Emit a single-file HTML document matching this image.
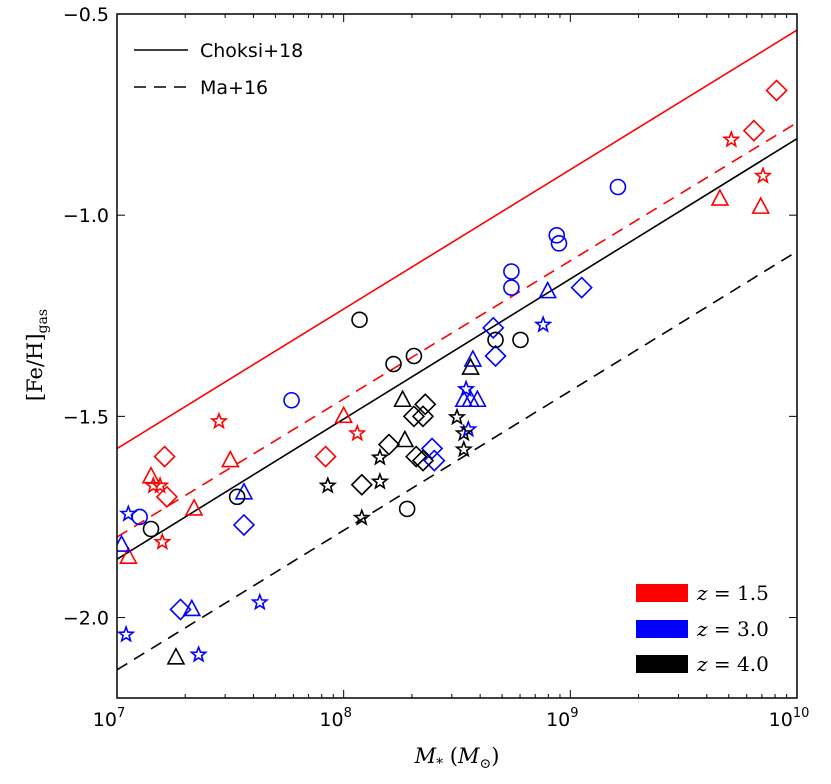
<!DOCTYPE html>
<html><head><meta charset="utf-8"><style>
body{margin:0;background:#fff}
svg text{font-family:"DejaVu Sans","Liberation Sans",sans-serif}
svg text.serif{font-family:"DejaVu Serif","Liberation Serif",serif}
</style></head><body>
<svg id="c" width="831" height="779" xmlns="http://www.w3.org/2000/svg"></svg>
<script>
// data: [log10 M*, [Fe/H]]
const redStars=[[9.71,-0.81],[9.85,-0.90],[7.45,-1.51],[8.06,-1.54],[7.16,-1.67],[7.19,-1.67],[7.20,-1.81]];
const redTris=[[7.15,-1.65],[7.50,-1.61],[7.34,-1.73],[7.05,-1.85],[8.00,-1.50],[9.66,-0.96],[9.84,-0.98]];
const redDiamonds=[[7.21,-1.60],[7.22,-1.70],[7.92,-1.60],[9.81,-0.79],[9.91,-0.69]];
const blueCircles=[[7.10,-1.75],[7.77,-1.46],[8.74,-1.14],[8.74,-1.18],[8.94,-1.05],[8.95,-1.07],[9.21,-0.93]];
const blueTris=[[7.02,-1.82],[7.56,-1.69],[7.33,-1.98],[8.57,-1.36],[8.53,-1.46],[8.56,-1.46],[8.59,-1.46],[8.90,-1.19]];
const blueStars=[[7.05,-1.74],[7.04,-2.04],[7.36,-2.09],[7.63,-1.96],[8.88,-1.27],[8.54,-1.43],[8.55,-1.53]];
const blueDiamonds=[[8.66,-1.28],[8.67,-1.35],[8.39,-1.58],[8.40,-1.61],[7.56,-1.77],[7.28,-1.98],[9.05,-1.18]];
const blackCircles=[[7.15,-1.78],[7.53,-1.70],[8.07,-1.26],[8.22,-1.37],[8.31,-1.35],[8.67,-1.31],[8.78,-1.31],[8.28,-1.73]];
const blackTris=[[7.26,-2.10],[8.26,-1.46],[8.27,-1.56],[8.56,-1.38]];
const blackDiamonds=[[8.36,-1.47],[8.31,-1.50],[8.35,-1.50],[8.20,-1.57],[8.32,-1.60],[8.35,-1.61],[8.08,-1.67]];
const blackStars=[[7.93,-1.67],[8.16,-1.60],[8.16,-1.66],[8.08,-1.75],[8.50,-1.50],[8.53,-1.54],[8.53,-1.58]];
// relations: [Fe/H] at logM=7 and 10
const choksiRed=[-1.58,-0.54], ma16Red=[-1.80,-0.77], choksiBlack=[-1.855,-0.81], ma16Black=[-2.13,-1.09];
const yTicks=[-0.5,-1.0,-1.5,-2.0];
const yTickLabels=["\u22120.5","\u22121.0","\u22121.5","\u22122.0"];
const xDecades=[7,8,9,10];

const L=117,R=797,T=14,B=698,X0=7,X1=10,Y0=-2.2,Y1=-0.5;
const sx=v=>L+(v-X0)/(X1-X0)*(R-L), sy=v=>B-(v-Y0)/(Y1-Y0)*(B-T);
const svg=document.getElementById('c'),NS='http://www.w3.org/2000/svg';
function mk(tag,a,p){const e=document.createElementNS(NS,tag);for(const k in a)e.setAttribute(k,a[k]);(p||svg).appendChild(e);return e;}
const clip=mk('clipPath',{id:'pc'});mk('rect',{x:L,y:T,width:R-L,height:B-T},clip);
const g=mk('g',{'clip-path':'url(#pc)'});


function line(arr,col,dash,name){const e=mk('line',{x1:sx(7),y1:sy(arr[0]),x2:sx(10),y2:sy(arr[1]),stroke:col,'stroke-width':1.6,'stroke-dasharray':dash||''},g);

}
line(choksiRed,'#f00','', 'choksi-line-z1.5');line(ma16Red,'#f00','12,8','ma16-line-z1.5');
line(choksiBlack,'#000','','choksi-line-z4');line(ma16Black,'#000','12,8','ma16-line-z4');
function starPts(cx,cy,r){let p=[];for(let i=0;i<10;i++){const a=-Math.PI/2+i*Math.PI/5,rr=i%2?r*0.42:r;p.push((cx+rr*Math.cos(a)).toFixed(1)+','+(cy+rr*Math.sin(a)).toFixed(1));}return p.join(' ');}
function marker(kind,d,col,name){const x=sx(d[0]),y=sy(d[1]);let e;const s={fill:'none',stroke:col,'stroke-width':1.6};
if(kind==='o')e=mk('circle',Object.assign({cx:x,cy:y,r:7.5},s),g);
else if(kind==='^')e=mk('polygon',Object.assign({points:`${x},${y-9} ${x+8},${y+6} ${x-8},${y+6}`},s),g);
else if(kind==='d')e=mk('polygon',Object.assign({points:`${x},${y-10} ${x+10},${y} ${x},${y+10} ${x-10},${y}`},s),g);
else e=mk('polygon',Object.assign({points:starPts(x,y+1,7.5)},s),g);

}
const sets=[[redStars,'*','#f00','red-star'],[redTris,'^','#f00','red-triangle'],[redDiamonds,'d','#f00','red-diamond'],
[blueCircles,'o','#00f','blue-circle'],[blueTris,'^','#00f','blue-triangle'],[blueStars,'*','#00f','blue-star'],[blueDiamonds,'d','#00f','blue-diamond'],
[blackCircles,'o','#000','black-circle'],[blackTris,'^','#000','black-triangle'],[blackDiamonds,'d','#000','black-diamond'],[blackStars,'*','#000','black-star']];
sets.forEach(s=>s[0].forEach(d=>marker(s[1],d,s[2],s[3])));
// frame
const fr=mk('rect',{x:L,y:T,width:R-L,height:B-T,fill:'none',stroke:'#000','stroke-width':1.5});


// ticks
yTicks.forEach((v,i)=>{const y=sy(v);mk('line',{x1:L,y1:y,x2:L+8,y2:y,stroke:'#000','stroke-width':1});mk('line',{x1:R,y1:y,x2:R-8,y2:y,stroke:'#000','stroke-width':1});
const t=mk('text',{x:L-8,y:y+7,'text-anchor':'end','font-size':19});t.textContent=yTickLabels[i];

});
xDecades.forEach(d=>{const x=sx(d);mk('line',{x1:x,y1:B,x2:x,y2:B-8,stroke:'#000'});mk('line',{x1:x,y1:T,x2:x,y2:T+8,stroke:'#000'});
const t=mk('text',{x:x-8,y:B+28,'text-anchor':'middle','font-size':19});t.innerHTML='10<tspan dy="-9" font-size="13">'+d+'</tspan>';


if(d<10)for(let m=2;m<10;m++){const xm=sx(d+Math.log10(m));mk('line',{x1:xm,y1:B,x2:xm,y2:B-4,stroke:'#000'});mk('line',{x1:xm,y1:T,x2:xm,y2:T+4,stroke:'#000'});}});
// axis labels
let t=mk('text',{x:457,y:763,'text-anchor':'middle','font-size':21,'class':'serif'});
t.innerHTML='<tspan font-style="italic">M</tspan><tspan font-size="14" dy="5">*</tspan><tspan dy="-5"> (</tspan><tspan font-style="italic">M</tspan><tspan font-size="14" dy="5">\u2299</tspan><tspan dy="-5">)</tspan>';


t=mk('text',{x:0,y:0,'text-anchor':'middle','font-size':21,'class':'serif',transform:'translate(42,355) rotate(-90)'});
t.innerHTML='[Fe/H]<tspan font-size="14" dy="5">gas</tspan>';


// legends
function leg(y,dash,label,name){const lg=mk('g',{});
mk('line',{x1:134,y1:y,x2:188,y2:y,stroke:'#000','stroke-width':1.6,'stroke-dasharray':dash},lg);
const tt=mk('text',{x:200,y:y+7,'font-size':19},lg);tt.textContent=label;}
leg(50,'','Choksi+18','legend-choksi');leg(87,'12,8','Ma+16','legend-ma16');
[['#f00','1.5',593],['#00f','3.0',629],['#000','4.0',664]].forEach(r=>{const lg=mk('g',{});
mk('rect',{x:636,y:r[2]-9,width:52,height:18,fill:r[0]},lg);
const tt=mk('text',{x:697,y:r[2]+7,'font-size':20,'class':'serif'},lg);tt.innerHTML='<tspan font-style="italic">z</tspan> = '+r[1];});
</script>
</body></html>
